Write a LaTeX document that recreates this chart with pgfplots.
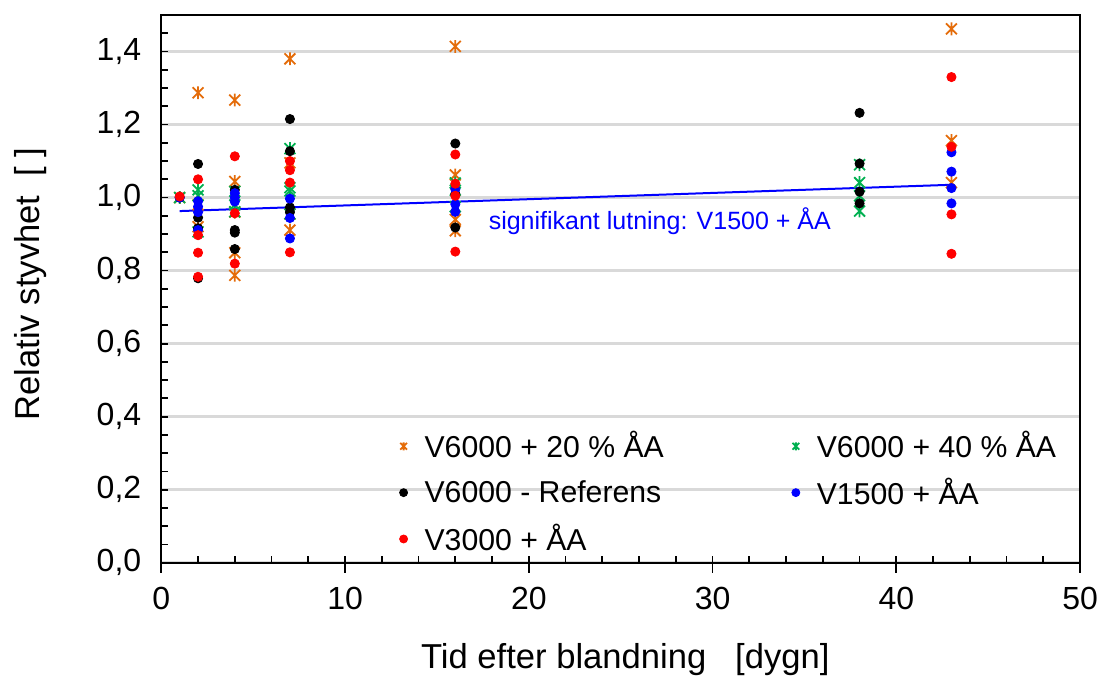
\documentclass[border=0pt]{standalone}
\usepackage{fontspec}
\setmainfont{Liberation Sans}
\usepackage{pgfplots}
\pgfplotsset{compat=1.18}
\definecolor{corange}{RGB}{228,108,10}
\definecolor{cgreen}{RGB}{0,176,80}
\definecolor{cblue}{RGB}{0,0,255}
\definecolor{cred}{RGB}{255,0,0}
\definecolor{cgrid}{RGB}{217,217,217}
\pgfdeclareplotmark{xstar}{%
  \pgfpathmoveto{\pgfqpoint{-0.85\pgfplotmarksize}{-0.85\pgfplotmarksize}}%
  \pgfpathlineto{\pgfqpoint{0.85\pgfplotmarksize}{0.85\pgfplotmarksize}}%
  \pgfpathmoveto{\pgfqpoint{-0.85\pgfplotmarksize}{0.85\pgfplotmarksize}}%
  \pgfpathlineto{\pgfqpoint{0.85\pgfplotmarksize}{-0.85\pgfplotmarksize}}%
  \pgfpathmoveto{\pgfqpoint{0pt}{-\pgfplotmarksize}}%
  \pgfpathlineto{\pgfqpoint{0pt}{\pgfplotmarksize}}%
  \pgfusepathqstroke}
\begin{document}
\begin{tikzpicture}
\useasboundingbox (-80.65pt,-58.65pt) rectangle (469.35pt,281.35pt);
\begin{axis}[
  at={(0,0)}, anchor=south west,
  scale only axis, width=459.4pt, height=273.85pt,
  xmin=0, xmax=50, ymin=0, ymax=1.5,
  xtick={0,10,20,30,40,50},
  minor xtick={2,4,6,8,12,14,16,18,22,24,26,28,32,34,36,38,42,44,46,48},
  ytick={0,0.2,0.4,0.6,0.8,1.0,1.2,1.4},
  minor ytick={0.05,0.1,0.15,0.25,0.3,0.35,0.45,0.5,0.55,0.65,0.7,0.75,0.85,0.9,0.95,1.05,1.1,1.15,1.25,1.3,1.35,1.45,1.5},
  xtick pos=left, ytick pos=left,
  tick align=inside,
  major tick length=3.5pt, minor tick length=3.5pt,
  tick style={black, line width=0.9pt},
  extra x ticks={0,10,20,30,40,50},
  extra x tick labels={},
  extra x tick style={tick align=outside, major tick length=5pt, grid=none},
  ymajorgrids,
  major grid style={cgrid, line width=1.2pt},
  axis line style={black, line width=1pt},
  /pgf/number format/assume math mode=true,
  yticklabel style={/pgf/number format/fixed, /pgf/number format/fixed zerofill, /pgf/number format/precision=1, /pgf/number format/use comma, xshift=-6.5pt},
  ticklabel style={font=\fontsize{16}{19}\selectfont},
  xticklabel style={yshift=-8.7pt},
  xlabel={Tid efter blandning\ \ \ [dygn]},
  ylabel={Relativ styvhet\ \ [ ]},
  label style={font=\fontsize{17.3}{20}\selectfont},
  xlabel style={at={(axis description cs:0.505,-0.1777)}, anchor=center},
  ylabel style={at={(axis description cs:-0.1428,0.509)}, anchor=center},
  legend columns=2,
  legend cell align=left,
  legend style={draw=none, fill=none, font=\fontsize{15.1}{18}\selectfont,
    at={(axis cs:12.62,0.382)}, anchor=north west,
    row sep=4.5pt,
    /tikz/every odd column/.append style={column sep=6.5pt},
    /tikz/every even column/.append style={column sep=62pt},
    nodes={inner sep=2pt}},
  legend image post style={mark size=2pt},
]
\addplot[only marks, mark=xstar, mark size=3.2pt, color=corange, line width=0.9pt] coordinates {
 (1,1.0)
 (2,1.287)(2,0.98)(2,0.92)
 (4,1.267)(4,1.044)(4,0.96)(4,0.849)(4,0.787)
 (7,1.38)(7,1.095)(7,0.955)(7,0.911)
 (16,1.414)(16,1.062)(16,0.94)(16,0.909)
 (43,1.462)(43,1.156)(43,1.041)
};
\addlegendentry{V6000 + 20 \% ÅA}
\addplot[only marks, mark=xstar, mark size=3.2pt, color=cgreen, line width=0.9pt] coordinates {
 (1,1.0)
 (2,1.021)(2,1.005)(2,0.906)
 (4,1.017)(4,0.980)(4,0.961)
 (7,1.134)(7,1.027)(7,1.018)(7,0.955)
 (16,1.04)(16,1.02)(16,0.975)
 (38,1.090)(38,1.041)(38,1.005)(38,0.963)
};
\addlegendentry{V6000 + 40 \% ÅA}
\addplot[only marks, mark=*, mark size=2.3pt, color=black] coordinates {
 (1,1.0)
 (2,1.092)(2,0.945)(2,0.916)(2,0.779)
 (4,1.021)(4,0.911)(4,0.904)(4,0.859)
 (7,1.215)(7,1.127)(7,0.973)(7,0.96)
 (16,1.148)(16,1.01)(16,0.918)
 (38,1.232)(38,1.093)(38,1.016)(38,0.984)
};
\addlegendentry{V6000 - Referens}
\addplot[only marks, mark=*, mark size=2.3pt, color=cblue] coordinates {
 (1,1.0)
 (2,0.99)(2,0.975)(2,0.96)(2,0.911)
 (4,1.012)(4,1.0)(4,0.989)
 (7,0.997)(7,0.944)(7,0.888)
 (16,1.023)(16,0.982)(16,0.961)
 (43,1.124)(43,1.071)(43,1.026)(43,0.984)
};
\addlegendentry{V1500 + ÅA}
\addplot[only marks, mark=*, mark size=2.3pt, color=cred] coordinates {
 (1,1.003)
 (2,1.050)(2,0.897)(2,0.849)(2,0.783)
 (4,1.113)(4,0.957)(4,0.819)
 (7,1.100)(7,1.075)(7,1.041)(7,0.850)
 (16,1.118)(16,1.038)(16,1.005)(16,0.852)
 (43,1.330)(43,1.139)(43,0.954)(43,0.846)
};
\addlegendentry{V3000 + ÅA}
\addplot[cblue, line width=1pt, no marks, forget plot] coordinates {(1,0.963)(43,1.035)};
\node[anchor=west, inner sep=0pt, text=cblue, font=\fontsize{12.5}{15}\selectfont] at (axis cs:17.8,0.936) {signifikant lutning: V1500 + ÅA};
\end{axis}
\end{tikzpicture}
\end{document}
